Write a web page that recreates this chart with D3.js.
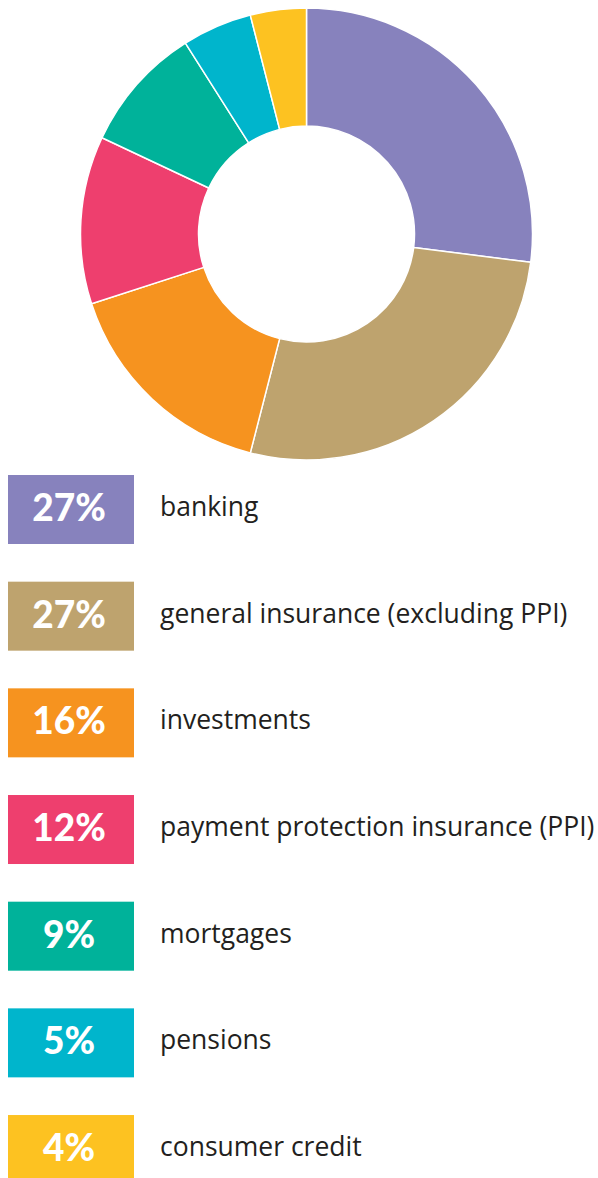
<!DOCTYPE html>
<html>
<head>
<meta charset="utf-8">
<script src="https://cdn.jsdelivr.net/npm/d3@7"></script>
<style>
  html, body { margin: 0; padding: 0; background: #fff; }
  svg { display: block; }
</style>
</head>
<body>
<svg id="chart" width="598" height="1178"></svg>
<script>
// Share of complaints by product area
const categories = [
  "banking",
  "general insurance (excluding PPI)",
  "investments",
  "payment protection insurance (PPI)",
  "mortgages",
  "pensions",
  "consumer credit"
];
const shares = [27, 27, 16, 12, 9, 5, 4];
const colors = ["#8782bd", "#bea36e", "#f6931f", "#ee3f6e", "#00b29a", "#00b5cc", "#fdc221"];

const svg = d3.select("#chart");

// Donut
const cx = 306.5, cy = 234, outerR = 226, innerR = 108;
const pie = d3.pie().sort(null).value(d => d.value);
const arc = d3.arc().innerRadius(innerR).outerRadius(outerR);
const data = categories.map((c, i) => ({ name: c, value: shares[i], color: colors[i] }));

svg.append("g")
  .attr("transform", `translate(${cx},${cy})`)
  .selectAll("path")
  .data(pie(data))
  .join("path")
  .attr("d", arc)
  .attr("fill", d => d.data.color)
  .attr("stroke", "#fff")
  .attr("stroke-width", 1.5)
  .attr("stroke-linejoin", "round");

// Legend
const rowY = d3.scaleBand().domain(categories).range([475, 1115 + 106.7]).paddingInner(0).paddingOuter(0);
const boxW = 126, boxH = 69, boxX = 8;

const rows = svg.append("g").selectAll("g")
  .data(data)
  .join("g")
  .attr("transform", d => `translate(0,${rowY(d.name)})`);

rows.append("rect")
  .attr("x", boxX).attr("y", 0)
  .attr("width", boxW).attr("height", boxH)
  .attr("fill", d => d.color);

rows.append("text")
  .attr("x", boxX + boxW / 2 - 2)
  .attr("y", 46)
  .attr("text-anchor", "middle")
  .attr("fill", "#fff")
  .attr("font-family", "Lato, 'Open Sans', sans-serif")
  .attr("font-weight", 900)
  .attr("font-size", 37)
  .text(d => d.value + "%");

rows.append("text")
  .attr("x", 160)
  .attr("y", 41)
  .attr("fill", "#231f20")
  .attr("font-family", "'Open Sans', 'Noto Sans', sans-serif")
  .attr("font-size", 26.5)
  .text(d => d.name);
</script>
</body>
</html>
